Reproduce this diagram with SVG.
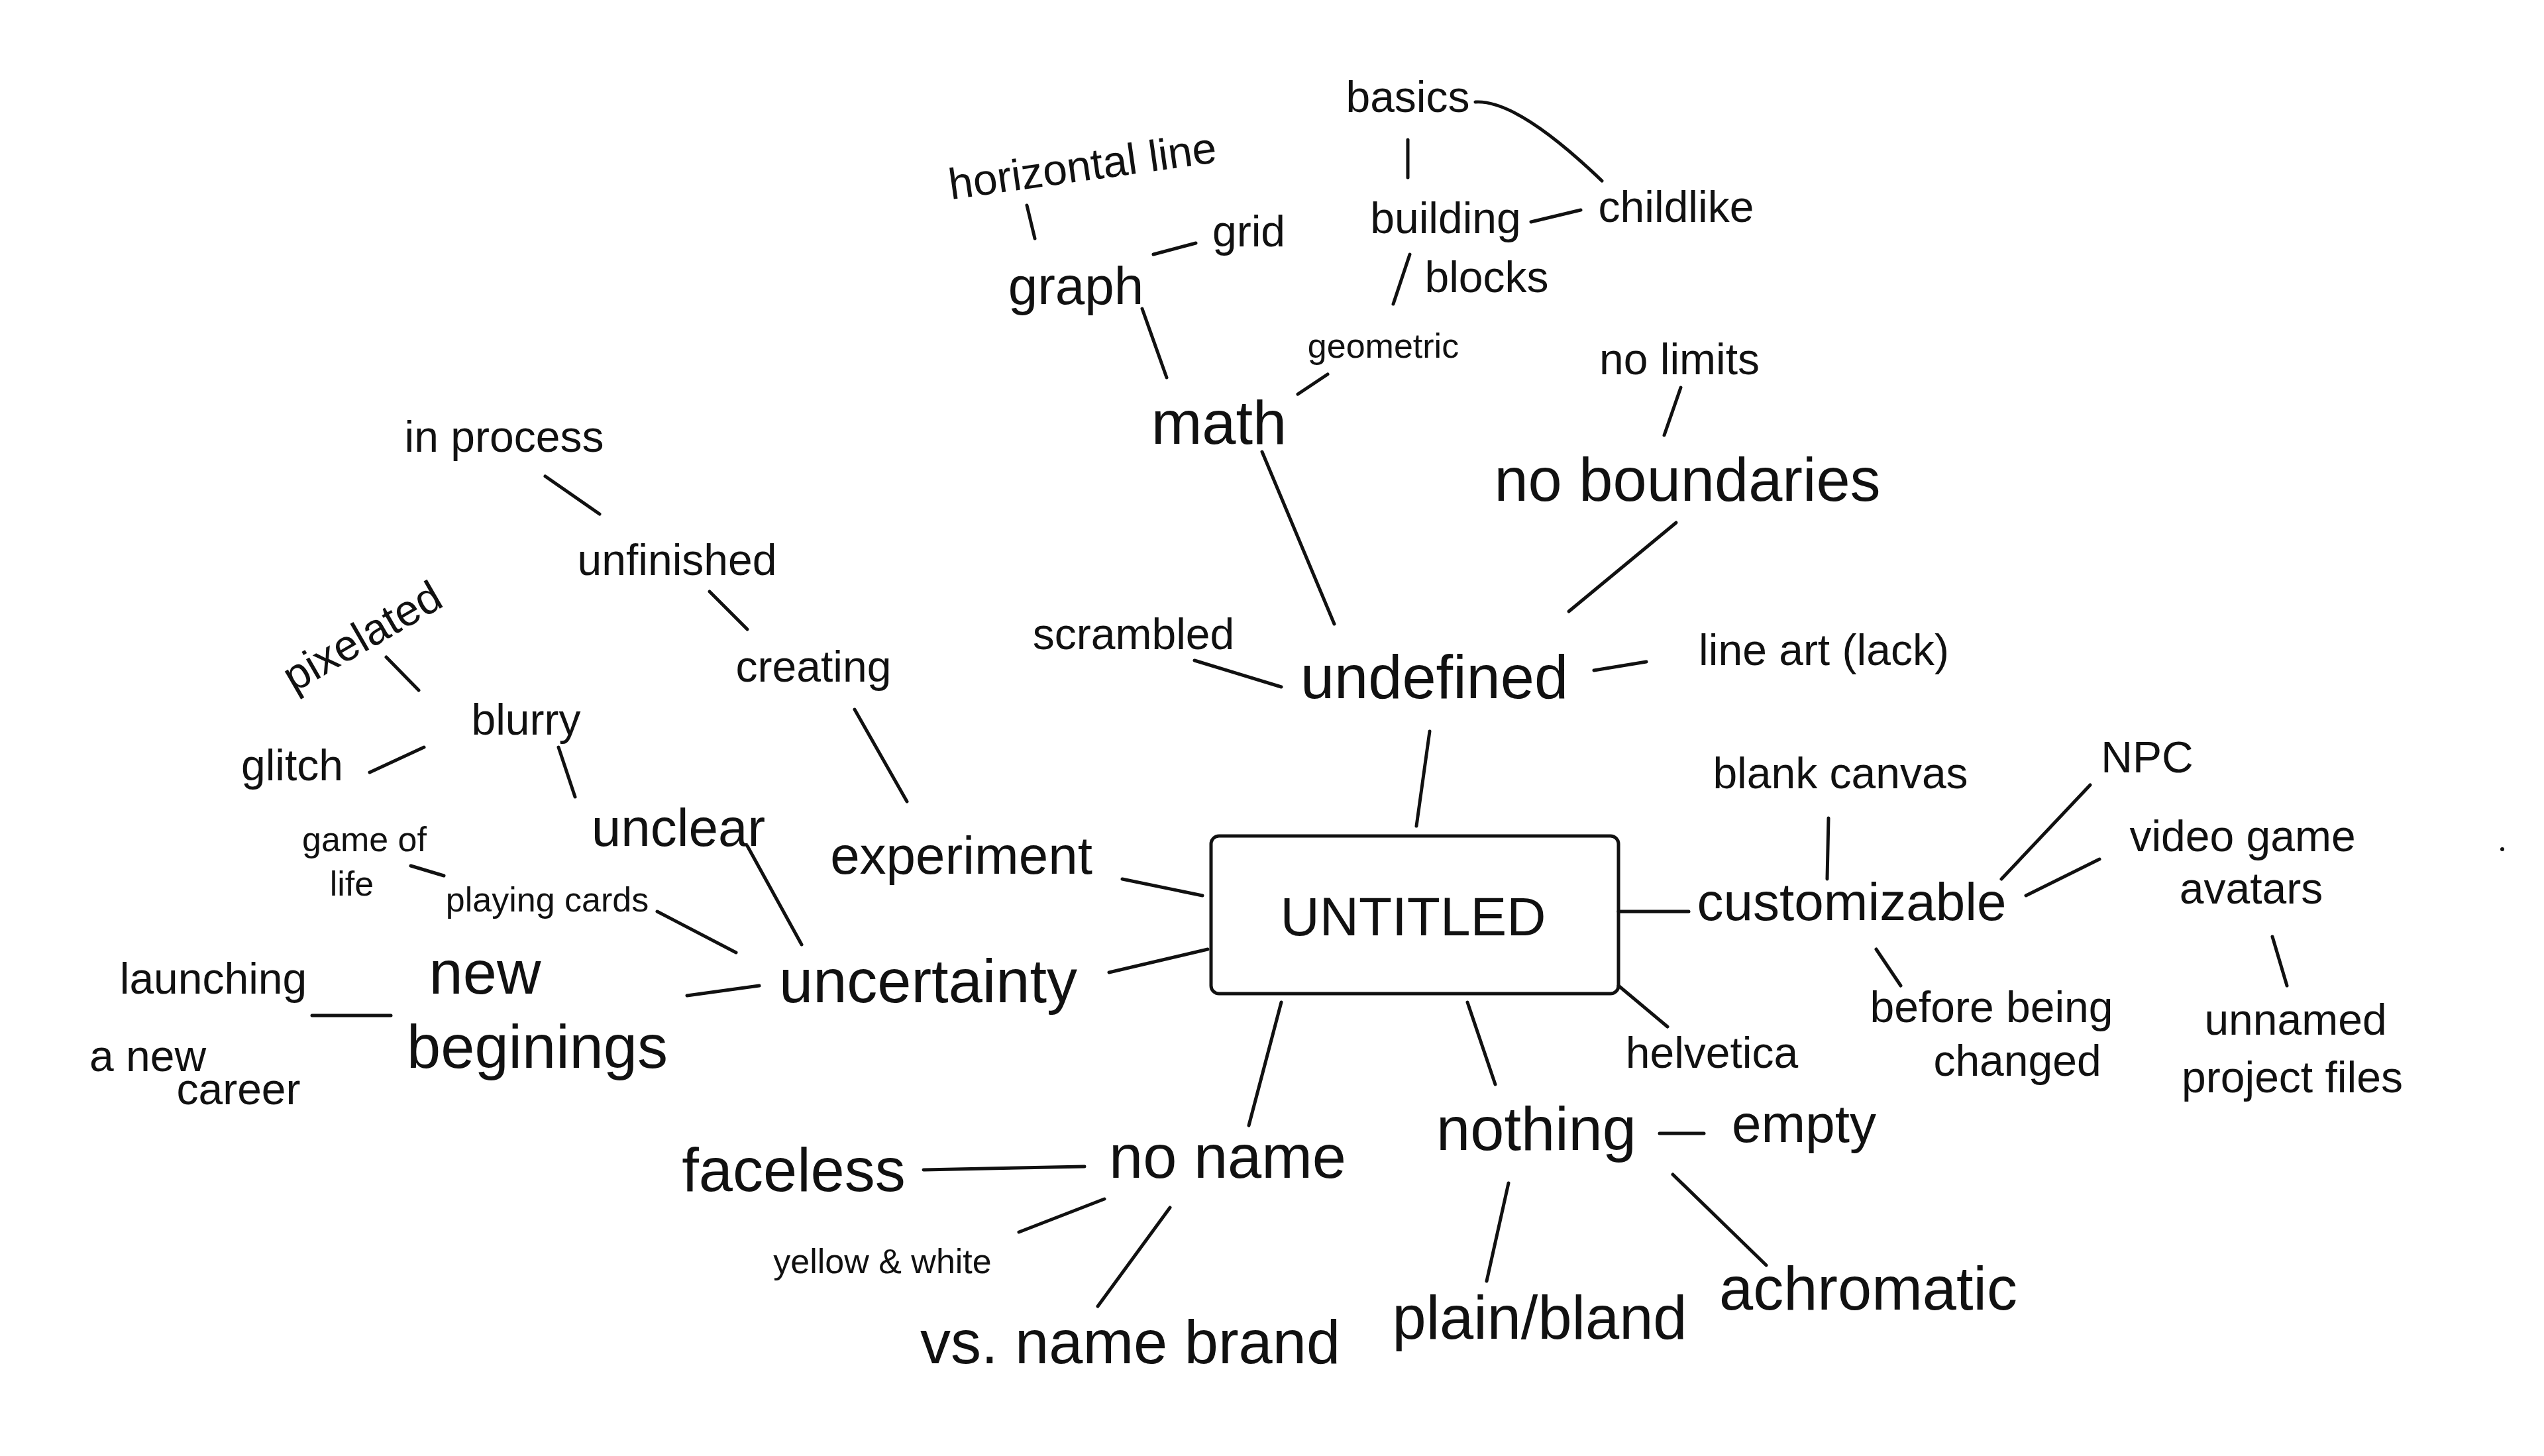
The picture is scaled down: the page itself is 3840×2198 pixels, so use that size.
<svg xmlns="http://www.w3.org/2000/svg" width="3840" height="2198" viewBox="0 0 3840 2198">
<style>
text{font-family:"Liberation Sans","DejaVu Sans",sans-serif;fill:#111;text-anchor:middle;font-size:66px}
.b{font-size:92px}.s{font-size:52px}.m{font-size:80px}
line,path,rect{stroke:#111;stroke-width:5;fill:none;stroke-linecap:round}
</style>
<rect width="3840" height="2198" fill="#fff" style="stroke:none"/>
<g id="connectors">
<line x1="2158" y1="1104" x2="2138" y2="1247"/>
<line x1="1803" y1="997" x2="1934" y2="1037"/>
<line x1="2406" y1="1012" x2="2485" y2="999"/>
<line x1="2368" y1="923" x2="2530" y2="789"/>
<line x1="2512" y1="657" x2="2537" y2="585"/>
<line x1="1905" y1="682" x2="2014" y2="942"/>
<line x1="1959" y1="595" x2="2004" y2="565"/>
<line x1="1724" y1="466" x2="1761" y2="570"/>
<line x1="1741" y1="384" x2="1805" y2="367"/>
<line x1="1550" y1="310" x2="1562" y2="360"/>
<line x1="2128" y1="384" x2="2103" y2="459"/>
<line x1="2125" y1="211" x2="2125" y2="268"/>
<line x1="2311" y1="335" x2="2386" y2="317"/>
<path d="M2227 154 Q2290 150 2418 273"/>
<line x1="1694" y1="1327" x2="1815" y2="1352"/>
<line x1="1290" y1="1071" x2="1369" y2="1210"/>
<line x1="1071" y1="893" x2="1128" y2="950"/>
<line x1="823" y1="719" x2="905" y2="776"/>
<line x1="1674" y1="1468" x2="1823" y2="1433"/>
<line x1="1128" y1="1277" x2="1210" y2="1426"/>
<line x1="992" y1="1376" x2="1111" y2="1438"/>
<line x1="1037" y1="1503" x2="1146" y2="1488"/>
<line x1="843" y1="1128" x2="868" y2="1203"/>
<line x1="558" y1="1166" x2="640" y2="1128"/>
<line x1="583" y1="992" x2="632" y2="1042"/>
<line x1="620" y1="1307" x2="670" y2="1322"/>
<line x1="471" y1="1533" x2="590" y2="1533"/>
<line x1="2443" y1="1376" x2="2549" y2="1376"/>
<line x1="2760" y1="1235" x2="2758" y2="1327"/>
<line x1="3021" y1="1327" x2="3155" y2="1185"/>
<line x1="3058" y1="1352" x2="3169" y2="1297"/>
<line x1="3430" y1="1414" x2="3452" y2="1488"/>
<line x1="2832" y1="1433" x2="2869" y2="1488"/>
<line x1="2443" y1="1488" x2="2517" y2="1550"/>
<line x1="1934" y1="1513" x2="1885" y2="1699"/>
<line x1="2215" y1="1513" x2="2257" y2="1637"/>
<line x1="1394" y1="1766" x2="1637" y2="1761"/>
<line x1="1538" y1="1860" x2="1667" y2="1810"/>
<line x1="1766" y1="1823" x2="1657" y2="1972"/>
<line x1="2505" y1="1711" x2="2572" y2="1711"/>
<line x1="2277" y1="1786" x2="2244" y2="1934"/>
<line x1="2525" y1="1773" x2="2666" y2="1910"/>
</g>
<g id="untitled"><rect x="1828" y="1262" width="615" height="238" rx="12"/><text x="2133" y="1412" style="font-size:82px">UNTITLED</text></g>
<g id="undefined"><text class="b" x="2165" y="1054">undefined</text></g>
<g id="scrambled"><text x="1711" y="980">scrambled</text></g>
<g id="lineart"><text x="2753" y="1004">line art (lack)</text></g>
<g id="noboundaries"><text class="b" x="2547" y="756">no boundaries</text></g>
<g id="nolimits"><text x="2535" y="565">no limits</text></g>
<g id="math"><text class="b" x="1840" y="670">math</text></g>
<g id="geometric"><text class="s" x="2088" y="540">geometric</text></g>
<g id="graph"><text class="m" x="1624" y="459">graph</text></g>
<g id="grid"><text x="1885" y="372">grid</text></g>
<g id="horizontal"><text x="1637" y="273" transform="rotate(-8 1637 273)">horizontal line</text></g>
<g id="building"><text x="2182" y="352">building</text><text x="2244" y="441">blocks</text></g>
<g id="basics"><text x="2125" y="169">basics</text></g>
<g id="childlike"><text x="2530" y="335">childlike</text></g>
<g id="experiment"><text class="m" x="1451" y="1319">experiment</text></g>
<g id="creating"><text x="1228" y="1029">creating</text></g>
<g id="unfinished"><text x="1022" y="868">unfinished</text></g>
<g id="inprocess"><text x="761" y="682">in process</text></g>
<g id="unclear"><text class="m" x="1024" y="1277">unclear</text></g>
<g id="blurry"><text x="794" y="1109">blurry</text></g>
<g id="pixelated"><text x="558" y="980" transform="rotate(-30 558 980)">pixelated</text></g>
<g id="glitch"><text x="441" y="1178">glitch</text></g>
<g id="gameoflife"><text class="s" x="550" y="1285">game of</text><text class="s" x="531" y="1352">life</text></g>
<g id="playingcards"><text class="s" x="826" y="1376">playing cards</text></g>
<g id="uncertainty"><text class="b" x="1401" y="1513">uncertainty</text></g>
<g id="newbeginings"><text class="b" x="732" y="1500">new</text><text class="b" x="811" y="1612">beginings</text></g>
<g id="launching"><text x="322" y="1500">launching</text><text x="223" y="1617">a new</text><text x="360" y="1667">career</text></g>
<g id="customizable"><text class="m" x="2795" y="1389">customizable</text></g>
<g id="blankcanvas"><text x="2778" y="1190">blank canvas</text></g>
<g id="npc"><text x="3241" y="1166">NPC</text></g>
<g id="videogame"><text x="3385" y="1285">video game</text><text x="3398" y="1364">avatars</text></g>
<g id="unnamed"><text x="3465" y="1562">unnamed</text><text x="3460" y="1649">project files</text></g>
<g id="beforebeing"><text x="3006" y="1543">before being</text><text x="3045" y="1624">changed</text></g>
<g id="helvetica"><text x="2584" y="1612">helvetica</text></g>
<g id="noname"><text class="b" x="1853" y="1778">no name</text></g>
<g id="faceless"><text class="b" x="1198" y="1798">faceless</text></g>
<g id="yellowwhite"><text class="s" x="1332" y="1922">yellow &amp; white</text></g>
<g id="namebrand"><text class="b" x="1706" y="2058">vs. name brand</text></g>
<g id="nothing"><text class="b" x="2319" y="1736">nothing</text></g>
<g id="empty"><text class="m" x="2723" y="1724">empty</text></g>
<g id="plain"><text class="b" x="2324" y="2021">plain/bland</text></g>
<g id="achromatic"><text class="b" x="2820" y="1977">achromatic</text></g>
<circle cx="3777" cy="1282" r="3" fill="#111"/>
</svg>
